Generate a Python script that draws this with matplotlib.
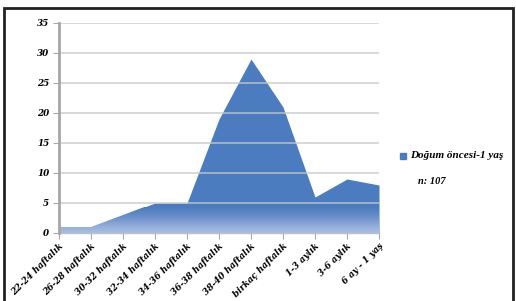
import numpy as np
import matplotlib
matplotlib.use("Agg")
import matplotlib.pyplot as plt
from matplotlib.patches import Rectangle
from matplotlib.colors import LinearSegmentedColormap

categories = ["22-24 haftalık", "26-28 haftalık", "30-32 haftalık", "32-34 haftalık",
              "34-36 haftalık", "36-38 haftalık", "38-40 haftalık", "birkaç haftalık",
              "1-3 aylık", "3-6 aylık", "6 ay - 1 yaş"]
values = [1, 1, 3, 5, 5, 19, 29, 21, 6, 9, 8]
series_name = "Doğum öncesi-1 yaş"
note = "n: 107"
yticks = [0, 5, 10, 15, 20, 25, 30, 35]

W, H = 516, 301
fig = plt.figure(figsize=(W / 100, H / 100), dpi=100)
fig.patch.set_facecolor("white")

ax = fig.add_axes([59 / W, 1 - 233 / H, (379 - 59) / W, (233 - 23) / H])
x = np.arange(len(categories))
blue = "#4a7cbf"

poly = ax.fill_between(x, 0, values, color=blue, linewidth=0, zorder=2)

# gradient band at the bottom of the area
cmap = LinearSegmentedColormap.from_list("g", ["#a9bfe2", "#93afda", "#7898cf", "#5e88c6", blue])
grad = np.linspace(0, 1, 256).reshape(-1, 1)
im = ax.imshow(grad, extent=[0, len(x) - 1, 0, 4.3], origin="lower", aspect="auto",
               cmap=cmap, zorder=3)
path = poly.get_paths()[0]
im.set_clip_path(path, transform=ax.transData)

ax.set_xlim(0, len(x) - 1)
ax.set_ylim(0, 35)
ax.set_yticks(yticks)
ax.set_xticks(x)
for yv in yticks[1:]:
    ax.axhline(yv, color="#c8c8c8", linewidth=1.3, alpha=0.75, zorder=4)

for s in ["top", "right"]:
    ax.spines[s].set_visible(False)
ax.spines["left"].set_color("#a6a6a6")
ax.spines["left"].set_linewidth(2)
ax.spines["bottom"].set_color("#bdbdbd")
ax.spines["bottom"].set_linewidth(1)
ax.spines["left"].set_zorder(5)

fp = dict(family="DejaVu Serif", weight="bold", style="italic", size=6.3)
ax.set_yticklabels([str(v) for v in yticks], **fp)
ax.set_xticklabels(categories, rotation=45, ha="right", rotation_mode="anchor", **fp)
ax.tick_params(axis="y", length=4, color="#a6a6a6", pad=3)
ax.tick_params(axis="x", length=4, color="#a6a6a6", pad=2)

# legend
fig.patches.append(Rectangle((400 / W, 1 - 159 / H), 6 / W, 6 / H,
                             transform=fig.transFigure, color=blue, zorder=5))
fig.text(410 / W, 1 - 156 / H, series_name, va="center", ha="left",
         family="Liberation Serif", weight="bold", style="italic", size=8)
fig.text(418 / W, 1 - 181 / H, note, va="center", ha="left",
         family="Liberation Serif", weight="bold", style="italic", size=7.5)

# frame
fig.patches.append(Rectangle((3.5 / W, -0.1), (513 - 3.5) / W, 1.1 - 7.5 / H,
                             transform=fig.transFigure, fill=False,
                             edgecolor="#222222", linewidth=2, zorder=10))

fig.savefig("out.png", dpi=100)
